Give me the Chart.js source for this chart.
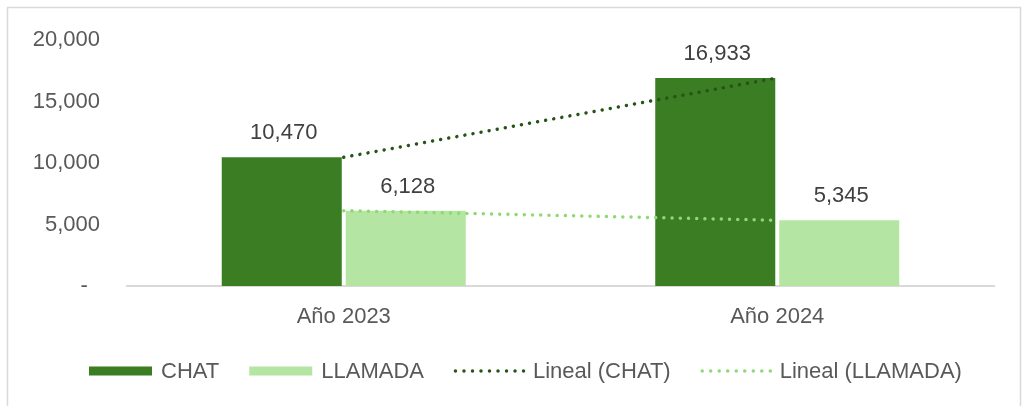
<!DOCTYPE html>
<html>
<head>
<meta charset="utf-8">
<script src="https://cdn.jsdelivr.net/npm/chart.js@4/dist/chart.umd.min.js"></script>
<style>
  html, body { margin: 0; padding: 0; background: #ffffff; }
  #grafico { display: block; }
</style>
</head>
<body>
<canvas id="grafico" width="1023" height="406"></canvas>
<script>
// datos
const categorias = ['Año 2023', 'Año 2024'];
const chat = [10470, 16933];
const llamada = [6128, 5345];
const ticksY = [0, 5000, 10000, 15000, 20000];

const verdeOscuro = '#3b7d23';
const verdeClaro = '#b4e5a2';
const tendOscuro = '#275317';
const tendClaro = '#8ed973';
const fuente = "'Liberation Sans', Arial, sans-serif";

// marco gris alrededor del grafico
const marco = {
  id: 'marco',
  beforeDraw(chart) {
    const ctx = chart.ctx;
    ctx.save();
    ctx.strokeStyle = '#d9d9d9';
    ctx.lineWidth = 1.5;
    ctx.strokeRect(7.5, 7.5, 1013, 420);
    ctx.restore();
  }
};

// etiquetas de valor sobre las barras
const etiquetas = {
  id: 'etiquetas',
  afterDatasetsDraw(chart) {
    const ctx = chart.ctx;
    ctx.save();
    ctx.font = '22px ' + fuente;
    ctx.fillStyle = '#404040';
    ctx.textAlign = 'center';
    ctx.textBaseline = 'alphabetic';
    chart.data.datasets.forEach((ds, i) => {
      if (ds.type === 'line') return;
      const meta = chart.getDatasetMeta(i);
      meta.data.forEach((bar, j) => {
        ctx.fillText(ds.data[j].toLocaleString('en-US'), bar.x + 2, bar.y - 18);
      });
    });
    ctx.restore();
  }
};

// leyenda dibujada a mano (cajas y lineas punteadas)
const leyenda = {
  id: 'leyenda',
  afterDraw(chart) {
    const ctx = chart.ctx;
    const items = [
      { tipo: 'caja', texto: 'CHAT', color: verdeOscuro },
      { tipo: 'caja', texto: 'LLAMADA', color: verdeClaro },
      { tipo: 'puntos', texto: 'Lineal (CHAT)', color: tendOscuro },
      { tipo: 'puntos', texto: 'Lineal (LLAMADA)', color: tendClaro }
    ];
    const y = 371;
    let x = 89;
    ctx.save();
    ctx.font = '22px ' + fuente;
    ctx.textBaseline = 'middle';
    ctx.textAlign = 'left';
    items.forEach(it => {
      if (it.tipo === 'caja') {
        ctx.fillStyle = it.color;
        ctx.fillRect(x, y - 4.5, 63, 9);
        x += 63;
      } else {
        ctx.strokeStyle = it.color;
        ctx.lineWidth = 3.5;
        ctx.lineCap = 'round';
        ctx.setLineDash([0.01, 8.5]);
        ctx.beginPath();
        ctx.moveTo(x + 1.5, y);
        ctx.lineTo(x + 70, y);
        ctx.stroke();
        ctx.setLineDash([]);
        x += 70;
      }
      x += 9;
      ctx.fillStyle = '#595959';
      ctx.fillText(it.texto, x, y + 1);
      x += ctx.measureText(it.texto).width + 30;
    });
    ctx.restore();
  }
};

new Chart(document.getElementById('grafico').getContext('2d'), {
  type: 'bar',
  data: {
    labels: categorias,
    datasets: [
      {
        label: 'CHAT',
        data: chat,
        backgroundColor: verdeOscuro,
        categoryPercentage: 0.572,
        barPercentage: 0.968,
        order: 2
      },
      {
        label: 'LLAMADA',
        data: llamada,
        backgroundColor: verdeClaro,
        categoryPercentage: 0.572,
        barPercentage: 0.968,
        order: 2
      },
      {
        type: 'line',
        label: 'Lineal (CHAT)',
        data: chat,
        borderColor: tendOscuro,
        borderWidth: 3.5,
        borderDash: [0.01, 8.2],
        borderCapStyle: 'round',
        pointRadius: 0,
        fill: false,
        order: 1
      },
      {
        type: 'line',
        label: 'Lineal (LLAMADA)',
        data: llamada,
        borderColor: tendClaro,
        borderWidth: 3.5,
        borderDash: [0.01, 8.2],
        borderCapStyle: 'round',
        pointRadius: 0,
        fill: false,
        order: 1
      }
    ]
  },
  options: {
    responsive: false,
    animation: false,
    layout: { padding: { top: 37, right: 29, left: 0, bottom: 0 } },
    plugins: {
      legend: { display: false },
      tooltip: { enabled: false }
    },
    scales: {
      x: {
        grid: { display: false, drawTicks: false },
        border: { display: true, color: '#d9d9d9', width: 2 },
        ticks: { color: '#595959', font: { family: fuente, size: 22 }, padding: 18 },
        afterFit(scale) { scale.height = 120; }
      },
      y: {
        min: 0,
        max: 20000,
        afterBuildTicks(scale) { scale.ticks = ticksY.map(v => ({ value: v })); },
        grid: { display: false, drawTicks: false },
        border: { display: false },
        ticks: {
          color: '#595959',
          font: { family: fuente, size: 22 },
          padding: 27,
          callback: v => v === 0 ? '-  ' : v.toLocaleString('en-US')
        },
        afterFit(scale) { scale.width = 127; }
      }
    }
  },
  plugins: [marco, etiquetas, leyenda]
});
</script>
</body>
</html>
